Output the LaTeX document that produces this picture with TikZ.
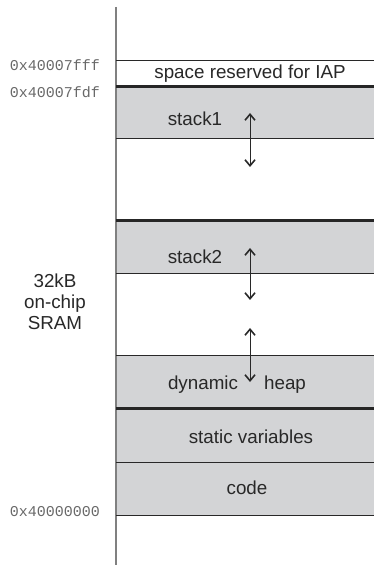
\documentclass[tikz,border=0pt]{standalone}
\usepackage{fontspec}
\setmainfont{Liberation Sans}
\newfontfamily\addrmono{Liberation Mono}
\usetikzlibrary{arrows.meta,positioning}
\definecolor{memgray}{RGB}{211,212,214}
\definecolor{inkgray}{RGB}{40,40,40}
\definecolor{addrgray}{RGB}{105,105,105}
\begin{document}
\begin{tikzpicture}[
   x=0.5pt, y=-0.5pt,
   node distance=0pt,
   region/.style={minimum width=129pt, inner sep=0pt, outer sep=0pt},
   filled/.style={region, fill=memgray},
   lbl/.style={font=\fontsize{9.4}{10.5}\selectfont, text=inkgray, inner sep=0pt,
      align=center},
   addr/.style={font=\addrmono\fontsize{7.5}{9}\selectfont, text=addrgray,
      inner sep=0pt},
   rule/.style={draw=inkgray, line width=0.5pt},
   thickrule/.style={draw=black!85, line width=1.5pt},
   axisline/.style={draw=gray, line width=0.8pt},
   growarrow/.style={{Straight Barb[length=3pt,width=5pt,line width=0.8pt]}-{Straight Barb[length=3pt,width=5pt,line width=0.8pt]},
      draw=inkgray, line width=0.5pt}
]
\useasboundingbox (0,0) rectangle (374,565);
% memory regions, top to bottom
\node[region, minimum height=13pt, anchor=north west] (iap) at (116,61) {};
\node[filled, minimum height=26pt, below=of iap] (stack1) {};
\node[region, minimum height=41pt, below=of stack1] (free1) {};
\node[filled, minimum height=26.5pt, below=of free1] (stack2) {};
\node[region, minimum height=40.5pt, below=of stack2] (free2) {};
\node[filled, minimum height=26.5pt, below=of free2] (heap) {};
\node[filled, minimum height=27pt, below=of heap] (statics) {};
\node[filled, minimum height=26.5pt, below=of statics] (code) {};

% axis
\coordinate (axtop) at (116,7);
\coordinate (axbot) at (116,565);
\draw[axisline] (axtop) -- (axbot);

% boundaries
\draw[rule] (iap.north west) -- (iap.north east);
\draw[thickrule] (iap.south west) -- (iap.south east);
\draw[rule] (stack1.south west) -- (stack1.south east);
\draw[thickrule] (stack2.north west) -- (stack2.north east);
\draw[rule] (stack2.south west) -- (stack2.south east);
\draw[rule] (heap.north west) -- (heap.north east);
\draw[thickrule] (heap.south west) -- (heap.south east);
\draw[rule] (statics.south west) -- (statics.south east);
\draw[rule] (code.south west) -- (code.south east);

% region texts
\node[lbl] (tiap) at (250,74) {space reserved for IAP};
\node[lbl] (tstack1) at (195,119) {stack1};
\node[lbl] (tstack2) at (195,257) {stack2};
\node[lbl] (tdyn) at (203,385) {dynamic};
\node[lbl] (theap) at (285,385) {heap};
\node[lbl] (tstat) at (251,437) {static variables};
\node[lbl] (tcode) at (247,488) {code};

% growth arrows
\coordinate (g1a) at (250,113);
\coordinate (g1b) at (250,167);
\coordinate (g2a) at (250,248);
\coordinate (g2b) at (250,300);
\coordinate (g3a) at (250,328);
\coordinate (g3b) at (250,382);
\draw[growarrow] (g1a) -- (g1b);
\draw[growarrow] (g2a) -- (g2b);
\draw[growarrow] (g3a) -- (g3b);

% addresses
\node[addr] (atop) at (55,65) {0x40007fff};
\node[addr] (aiap) at (55,92) {0x40007fdf};
\node[addr] (abase) at (55,512) {0x40000000};
\node[lbl] (sram) at (55,302) {32kB\\on-chip\\SRAM};
\end{tikzpicture}
\end{document}
